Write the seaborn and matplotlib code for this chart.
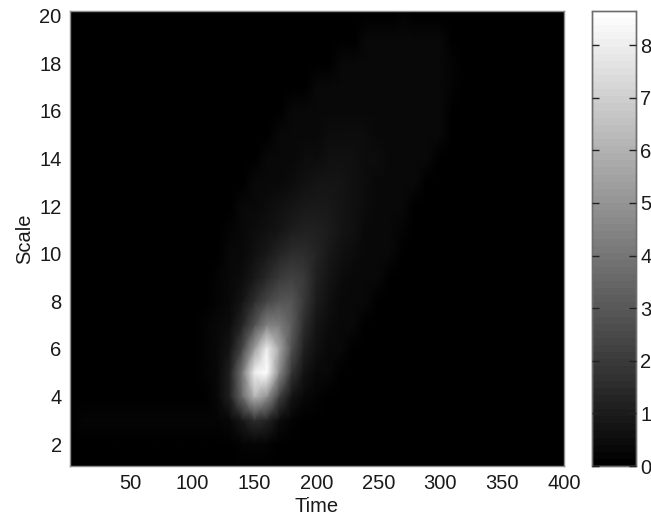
import matplotlib
matplotlib.use("Agg")
import matplotlib.pyplot as plt
import seaborn as sns
import numpy as np

# 读图估计的数值 (time 100..320, step 10; one row per scale 1..21)
time_step = 10
scale_values = list(range(1, 22))
core_times = list(range(100, 330, 10))
time_ticks = [50, 100, 150, 200, 250, 300, 350, 400]
scale_ticks = [2, 4, 6, 8, 10, 12, 14, 16, 18, 20]
cbar_ticks = [0, 1, 2, 3, 4, 5, 6, 7, 8]
vmax_value = 8.65

# faint horizontal band at scale 3 (time 0..90 and 330..400)
band_left = [0, 0.15, 0.16, 0.16, 0.16, 0.16, 0.16, 0.16, 0.15, 0.14]
band_right = [0.13, 0.13, 0.13, 0.13, 0.13, 0.13, 0.13, 0]

core = [
    # 100  110  120  130  140  150  160  170  180  190  200  210  220  230  240  250  260  270  280  290  300  310  320
    [0.0, 0.0, 0.0, 0.0, 0.0, 0.02, 0.02, 0.0, 0.0, 0.0, 0.0, 0.0, 0.0, 0.0, 0.0, 0.0, 0.0, 0.0, 0.0, 0.0, 0.0, 0.0, 0.0],
    [0.0, 0.0, 0.05, 0.1, 0.2, 0.25, 0.2, 0.1, 0.05, 0.0, 0.0, 0.0, 0.0, 0.0, 0.0, 0.0, 0.0, 0.0, 0.0, 0.0, 0.0, 0.0, 0.0],
    [0.14, 0.14, 0.15, 0.35, 0.9, 1.6, 1.3, 0.5, 0.2, 0.13, 0.13, 0.13, 0.13, 0.13, 0.13, 0.13, 0.13, 0.13, 0.13, 0.13, 0.13, 0.13, 0.13],
    [0.0, 0.1, 0.3, 1.2, 3.6, 6.2, 5.0, 2.2, 0.8, 0.35, 0.2, 0.0, 0.0, 0.0, 0.0, 0.0, 0.0, 0.0, 0.0, 0.0, 0.0, 0.0, 0.0],
    [0.0, 0.15, 0.35, 1.1, 4.0, 8.0, 8.65, 4.6, 1.8, 0.7, 0.4, 0.3, 0.1, 0.0, 0.0, 0.0, 0.0, 0.0, 0.0, 0.0, 0.0, 0.0, 0.0],
    [0.0, 0.15, 0.3, 0.7, 2.4, 5.4, 8.0, 5.6, 2.8, 1.2, 0.6, 0.35, 0.3, 0.1, 0.0, 0.0, 0.0, 0.0, 0.0, 0.0, 0.0, 0.0, 0.0],
    [0.0, 0.15, 0.3, 0.5, 1.3, 2.8, 4.4, 4.2, 3.2, 1.6, 0.8, 0.5, 0.35, 0.3, 0.1, 0.0, 0.0, 0.0, 0.0, 0.0, 0.0, 0.0, 0.0],
    [0.0, 0.1, 0.25, 0.4, 0.8, 1.5, 2.3, 2.9, 2.9, 1.9, 1.0, 0.6, 0.4, 0.3, 0.3, 0.1, 0.0, 0.0, 0.0, 0.0, 0.0, 0.0, 0.0],
    [0.0, 0.0, 0.2, 0.35, 0.5, 0.9, 1.4, 1.9, 2.2, 1.9, 1.2, 0.8, 0.5, 0.35, 0.3, 0.3, 0.1, 0.0, 0.0, 0.0, 0.0, 0.0, 0.0],
    [0.0, 0.0, 0.1, 0.3, 0.4, 0.6, 0.9, 1.3, 1.5, 1.55, 1.3, 0.9, 0.6, 0.45, 0.35, 0.3, 0.3, 0.1, 0.0, 0.0, 0.0, 0.0, 0.0],
    [0.0, 0.0, 0.0, 0.2, 0.35, 0.45, 0.6, 0.8, 1.05, 1.15, 1.2, 1.0, 0.75, 0.55, 0.4, 0.35, 0.3, 0.2, 0.0, 0.0, 0.0, 0.0, 0.0],
    [0.0, 0.0, 0.0, 0.05, 0.3, 0.35, 0.45, 0.55, 0.7, 0.85, 0.9, 0.9, 0.8, 0.6, 0.5, 0.4, 0.35, 0.3, 0.1, 0.0, 0.0, 0.0, 0.0],
    [0.0, 0.0, 0.0, 0.0, 0.05, 0.3, 0.35, 0.4, 0.5, 0.6, 0.7, 0.75, 0.7, 0.6, 0.5, 0.4, 0.35, 0.3, 0.3, 0.05, 0.0, 0.0, 0.0],
    [0.0, 0.0, 0.0, 0.0, 0.0, 0.1, 0.3, 0.35, 0.4, 0.45, 0.5, 0.55, 0.6, 0.55, 0.5, 0.45, 0.4, 0.35, 0.3, 0.3, 0.05, 0.0, 0.0],
    [0.0, 0.0, 0.0, 0.0, 0.0, 0.0, 0.1, 0.3, 0.35, 0.4, 0.4, 0.45, 0.45, 0.45, 0.45, 0.4, 0.4, 0.35, 0.3, 0.3, 0.3, 0.0, 0.0],
    [0.0, 0.0, 0.0, 0.0, 0.0, 0.0, 0.0, 0.1, 0.3, 0.3, 0.35, 0.35, 0.4, 0.4, 0.4, 0.4, 0.35, 0.35, 0.3, 0.3, 0.3, 0.1, 0.0],
    [0.0, 0.0, 0.0, 0.0, 0.0, 0.0, 0.0, 0.0, 0.0, 0.1, 0.3, 0.3, 0.3, 0.3, 0.3, 0.3, 0.3, 0.3, 0.3, 0.3, 0.3, 0.2, 0.0],
    [0.0, 0.0, 0.0, 0.0, 0.0, 0.0, 0.0, 0.0, 0.0, 0.0, 0.0, 0.1, 0.3, 0.3, 0.3, 0.3, 0.3, 0.3, 0.3, 0.3, 0.3, 0.2, 0.0],
    [0.0, 0.0, 0.0, 0.0, 0.0, 0.0, 0.0, 0.0, 0.0, 0.0, 0.0, 0.0, 0.0, 0.1, 0.3, 0.3, 0.3, 0.3, 0.3, 0.3, 0.3, 0.1, 0.0],
    [0.0, 0.0, 0.0, 0.0, 0.0, 0.0, 0.0, 0.0, 0.0, 0.0, 0.0, 0.0, 0.0, 0.0, 0.0, 0.0, 0.05, 0.2, 0.1, 0.0, 0.0, 0.0, 0.0],
    [0.0, 0.0, 0.0, 0.0, 0.0, 0.0, 0.0, 0.0, 0.0, 0.0, 0.0, 0.0, 0.0, 0.0, 0.0, 0.0, 0.0, 0.0, 0.0, 0.0, 0.0, 0.0, 0.0],
]

# full grid, time 0..400
n_cols = 400 // time_step + 1
grid = np.zeros((len(scale_values), n_cols))
grid[:, core_times[0] // time_step:core_times[-1] // time_step + 1] = core
grid[2, :10] = band_left
grid[2, 33:] = band_right

sns.set_style("white")
plt.rcParams["font.family"] = ["Liberation Sans", "DejaVu Sans"]
text_color = "#1a1a1a"

fig = plt.figure(figsize=(6.51, 5.24), dpi=100)
ax = fig.add_axes([70 / 651, 1 - 466 / 524, 494 / 651, 455 / 524])
cax = fig.add_axes([592 / 651, 1 - 466 / 524, 44 / 651, 455 / 524])

sns.heatmap(
    grid,
    ax=ax,
    cbar_ax=cax,
    cmap=plt.get_cmap("gray", 64),
    vmin=0,
    vmax=vmax_value,
    xticklabels=False,
    yticklabels=False,
    shading="gouraud",
    cbar_kws={"ticks": cbar_ticks},
)

# 坐标范围 (grid index space)
ax.set_xlim(1 / time_step, 400 / time_step)
ax.set_ylim(0.08, 19.2)

ax.set_xticks(np.array(time_ticks) / time_step)
ax.set_xticklabels(time_ticks, fontsize=14.5, color=text_color, rotation=0)
ax.set_yticks(np.array(scale_ticks) - scale_values[0])
ax.set_yticklabels(scale_ticks, fontsize=14.5, color=text_color, rotation=0)
ax.tick_params(axis="x", length=0, pad=6)
ax.tick_params(axis="y", length=0, pad=6)
ax.set_xlabel("Time", fontsize=14.5, color=text_color, labelpad=3)
ax.set_ylabel("Scale", fontsize=14.5, color=text_color, labelpad=4)

for spine in ax.spines.values():
    spine.set_visible(True)
    spine.set_color("#8c8c8c")
    spine.set_linewidth(1)

# 色条刻度画在色块上面
cax.set_axisbelow(False)
cax.tick_params(axis="y", left=True, right=True, direction="in", length=5, width=1,
                color="#222222", labelsize=14.5, labelcolor=text_color, pad=3)
for spine in cax.spines.values():
    spine.set_visible(True)
    spine.set_color("#6e6e6e")
    spine.set_linewidth(1)

plt.savefig("out.png", dpi=100)
